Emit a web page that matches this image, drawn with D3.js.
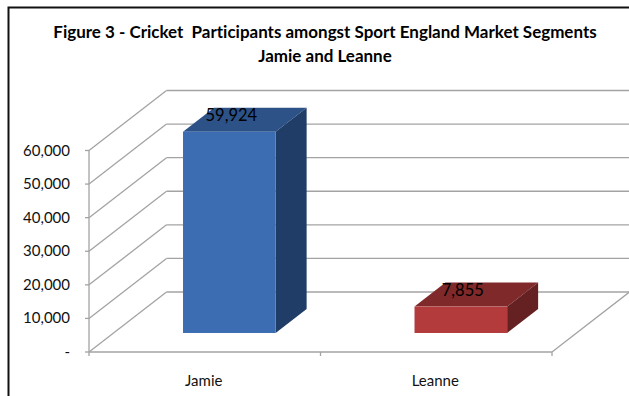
<!DOCTYPE html>
<html>
<head>
<meta charset="utf-8">
<script src="https://cdn.jsdelivr.net/npm/d3@7"></script>
<style>
  html, body { margin: 0; padding: 0; background: #fff; }
  svg { display: block; }
  text { white-space: pre; font-variant-ligatures: none; }
</style>
</head>
<body>
<svg id="chart" width="629" height="396"></svg>
<script>
// ---- data ----
const titleLines = ["Figure 3 - Cricket\u00A0 Participants amongst Sport England Market Segments", "Jamie and Leanne"];
const categories = ["Jamie", "Leanne"];
const values = [59924, 7855];
const valueLabels = ["59,924", "7,855"];
const yTicks = [0, 10000, 20000, 30000, 40000, 50000, 60000];
const yTickLabels = ["-", "10,000", "20,000", "30,000", "40,000", "50,000", "60,000"];

// ---- style / layout ----
const fills = [
  { front: "#3c6db3", top: "#2c5287", side: "#1f3d66" },
  { front: "#b33b3c", top: "#7f292a", side: "#652021" }
];
const gridColor = "#a3a3a3";
const DX = 77.5, DY = -60;      // depth offset of back wall
const F0 = 0.317, F1 = 0.717;   // bar depth extent (fractions of depth)

const svg = d3.select("#chart");

// border
svg.append("rect").attr("x", 8.5).attr("y", 7.5).attr("width", 640).attr("height", 420)
  .attr("fill", "#fff").attr("stroke", "#111").attr("stroke-width", 2);

// title
const t = svg.append("g").attr("font-family", "Lato, 'Open Sans', sans-serif").attr("font-weight", "bold").attr("fill", "#000");
const t1 = t.append("text").attr("x", 325).attr("y", 38).attr("text-anchor", "middle").attr("font-size", 17).text(titleLines[0]);
const w1 = t1.node().getComputedTextLength();
const fs = 17 * 544 / w1;
t1.attr("font-size", fs);
t.append("text").attr("x", 325).attr("y", 62).attr("text-anchor", "middle").attr("font-size", fs).text(titleLines[1]);

// scales
const y = d3.scaleLinear().domain([0, 60000]).range([352, 150.5]);
const x = d3.scaleBand().domain(categories).range([89, 552]).paddingInner(0.6).paddingOuter(0.3);
const xCat = d3.scaleBand().domain(categories).range([89, 552]);
const x0 = 89, x1 = 552;

const g = svg.append("g");
const line = (a, b, c, d) => g.append("line").attr("x1", a).attr("y1", b).attr("x2", c).attr("y2", d)
  .attr("stroke", gridColor).attr("stroke-width", 1.3);

// gridlines: side wall diagonals + back wall horizontals
yTicks.forEach(v => {
  const yy = y(v);
  line(x0, yy, x0 + DX, yy + DY);
  line(x0 + DX, yy + DY, x1 + DX + 2, yy + DY);
  line(x0 - 4, yy, x0, yy); // tick mark
});
// front vertical axis
line(x0, y(60000), x0, y(0));
// floor front edge and right edge
line(x0, y(0), x1, y(0));
line(x1, y(0), x1 + DX, y(0) + DY);
// category ticks
[x0, ...categories.map(c => xCat(c) + xCat.bandwidth())].forEach(xx => line(xx, y(0), xx, y(0) + 4));

// y labels
svg.append("g").attr("font-family", "Lato, 'Open Sans', sans-serif").attr("font-size", 15).attr("fill", "#111")
  .selectAll("text").data(yTicks).join("text")
  .attr("x", 70).attr("y", v => y(v) + 5).attr("text-anchor", "end")
  .text((v, i) => yTickLabels[i]);

// x labels
svg.append("g").attr("font-family", "Lato, 'Open Sans', sans-serif").attr("font-size", 15).attr("fill", "#111")
  .selectAll("text").data(categories).join("text")
  .attr("x", c => xCat(c) + xCat.bandwidth() / 2 - 1).attr("y", 386).attr("text-anchor", "middle")
  .text(c => c);

// bars
const pts = p => p.map(q => q.join(",")).join(" ");
categories.forEach((c, i) => {
  const v = values[i];
  const bx0 = x(c), bx1 = x(c) + x.bandwidth();
  const yb = y(0), yt = y(v);
  const P = (xx, yy, f) => [xx + f * DX, yy + f * DY];
  const bg = svg.append("g");
  // top
  bg.append("polygon").attr("points", pts([P(bx0, yt, F0), P(bx1, yt, F0), P(bx1, yt, F1), P(bx0, yt, F1)]))
    .attr("fill", fills[i].top);
  // side
  bg.append("polygon").attr("points", pts([P(bx1, yt, F0), P(bx1, yt, F1), P(bx1, yb, F1), P(bx1, yb, F0)]))
    .attr("fill", fills[i].side);
  // front
  const fa = P(bx0, yt, F0), fb = P(bx1, yb, F0);
  bg.append("rect").attr("x", fa[0]).attr("y", fa[1]).attr("width", fb[0] - fa[0]).attr("height", fb[1] - fa[1])
    .attr("fill", fills[i].front);
  // label
  bg.append("text").attr("x", (fa[0] + fb[0]) / 2 + 2).attr("y", fa[1] - 11)
    .attr("text-anchor", "middle").attr("font-family", "Lato, 'Open Sans', sans-serif")
    .attr("font-size", 16.5).attr("fill", "#000").text(valueLabels[i]);
});
</script>
</body>
</html>
